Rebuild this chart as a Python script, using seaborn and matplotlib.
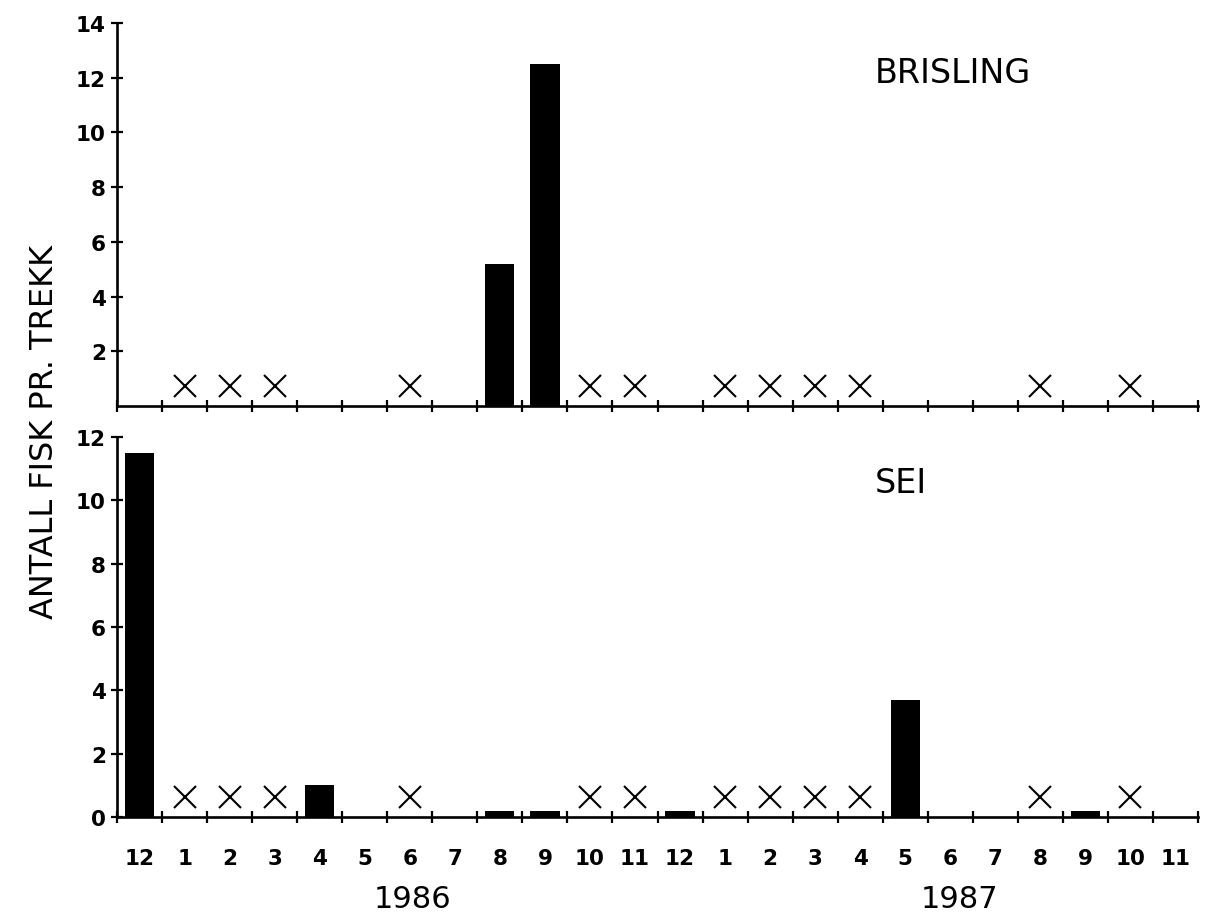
import matplotlib
matplotlib.use("Agg")
import matplotlib.pyplot as plt
import matplotlib.transforms as mtransforms
import numpy as np
import pandas as pd
import seaborn as sns

# Sampling months, December 1985 through November 1987
periods = ["1985-12",
           "1986-01", "1986-02", "1986-03", "1986-04", "1986-05", "1986-06",
           "1986-07", "1986-08", "1986-09", "1986-10", "1986-11", "1986-12",
           "1987-01", "1987-02", "1987-03", "1987-04", "1987-05", "1987-06",
           "1987-07", "1987-08", "1987-09", "1987-10", "1987-11"]
month_labels = ["12", "1", "2", "3", "4", "5", "6", "7", "8", "9", "10", "11",
                "12", "1", "2", "3", "4", "5", "6", "7", "8", "9", "10", "11"]
year_labels = ["1986", "1987"]

# Number of fish per tow
brisling = [0, 0, 0, 0, 0, 0, 0, 0, 5.2, 12.5, 0, 0,
            0, 0, 0, 0, 0, 0, 0, 0, 0, 0, 0, 0]
sei = [11.5, 0, 0, 0, 1.0, 0, 0, 0, 0.2, 0.2, 0, 0,
       0.2, 0, 0, 0, 0, 3.7, 0, 0, 0, 0.2, 0, 0]

# Months with tows that gave no catch (marked with a cross)
brisling_zero = [0, 1, 1, 1, 0, 0, 1, 0, 0, 0, 1, 1,
                 0, 1, 1, 1, 1, 0, 0, 0, 1, 0, 1, 0]
sei_zero = [0, 1, 1, 1, 0, 0, 1, 0, 0, 0, 1, 1,
            0, 1, 1, 1, 1, 0, 0, 0, 1, 0, 1, 0]

sns.set_theme(style="ticks")
plt.rcParams["font.family"] = ["DejaVu Sans"]

W, H = 1205, 920
fig = plt.figure(figsize=(W / 100, H / 100), dpi=100)
fig.patch.set_facecolor("white")

left = 117 / W
width = (1198 - 117) / W
ax_top = fig.add_axes([left, 1 - 407 / H, width, (407 - 24) / H])
ax_bot = fig.add_axes([left, 1 - 818 / H, width, (818 - 438) / H])

df = pd.DataFrame({"periode": periods, "BRISLING": brisling, "SEI": sei})
n = len(periods)
pos = np.arange(n)


def draw_panel(ax, col, zeros, ymax, yticks, name, name_y, show_labels):
    sns.barplot(data=df, x="periode", y=col, order=periods, color="black",
                saturation=1, width=0.65, ax=ax, edgecolor="none")
    # crosses for months sampled without catch, a fixed distance above the axis
    off = mtransforms.ScaledTranslation(0, 20 / 100, fig.dpi_scale_trans)
    zx = pos[np.array(zeros, dtype=bool)]
    ax.plot(zx, np.zeros(len(zx)), ls="none", marker="x", ms=15.5, mew=1.5,
            color="black", transform=ax.transData + off, clip_on=False)

    ax.set_xlim(-0.5, n - 0.5)
    ax.set_ylim(0, ymax)
    ax.set_yticks(yticks)
    ax.set_yticklabels([str(t) for t in yticks], fontsize=15.5,
                       fontweight="bold")
    ax.set_xticks(pos)
    ax.set_xticks(np.arange(n + 1) - 0.5, minor=True)
    if show_labels:
        ax.set_xticklabels(month_labels, fontsize=15.5, fontweight="bold")
    else:
        ax.set_xticklabels([])
    ax.tick_params(axis="x", which="major", length=0, pad=22, colors="black")
    ax.tick_params(axis="x", which="minor", direction="inout", length=8,
                   width=1.6, color="black")
    ax.tick_params(axis="y", direction="inout", length=8, width=1.6,
                   pad=4, colors="black")
    ax.set_xlabel("")
    ax.set_ylabel("")
    for s in ("top", "right"):
        ax.spines[s].set_visible(False)
    for s in ("left", "bottom"):
        ax.spines[s].set_linewidth(1.9)
        ax.spines[s].set_color("black")
    ax.set_facecolor("white")
    ax.text(16.33, name_y, name, fontsize=24, ha="left", va="baseline",
            color="black")


draw_panel(ax_top, "BRISLING", brisling_zero, 14, list(range(2, 15, 2)),
           "BRISLING", 11.84, False)
draw_panel(ax_bot, "SEI", sei_zero, 12, list(range(0, 13, 2)),
           "SEI", 10.26, True)

# year captions under the month axis
trans = mtransforms.blended_transform_factory(ax_bot.transData, fig.transFigure)
for xpos, lab in zip([6.05, 18.2], year_labels):
    ax_bot.text(xpos, 1 - 900 / H, lab, transform=trans, fontsize=22,
                ha="center", va="center", color="black")

fig.text(45 / W, 1 - 432 / H, "ANTALL FISK PR. TREKK", rotation=90,
         fontsize=23, ha="center", va="center", color="black")

fig.savefig("out.png", dpi=100, facecolor="white")
